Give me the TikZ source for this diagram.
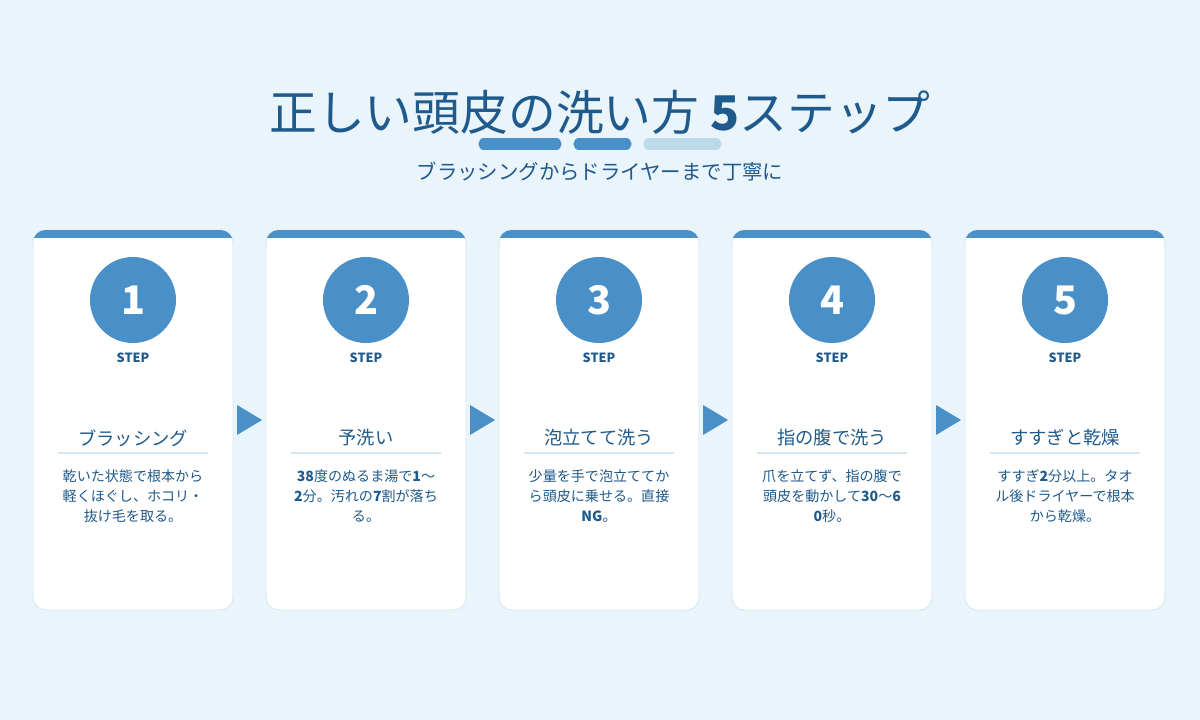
\documentclass[tikz,border=0pt]{standalone}
\usepackage{fontspec}
\setmainfont{Noto Sans CJK JP}
\usetikzlibrary{positioning,calc}
\definecolor{bgblue}{HTML}{E9F4FB}
\definecolor{dark}{HTML}{1F5A8C}
\definecolor{accent}{HTML}{4A90C8}
\definecolor{pale}{HTML}{BCD9EA}
\definecolor{edge}{HTML}{D3E6F2}
\tikzset{
    % Card style
    card/.style={
        rectangle,
        rounded corners=9pt,
        minimum width=5cm,
        minimum height=9.5cm,
        draw=edge,
        fill=white,
        line width=0.6pt
    },
    % Number badge
    badge/.style={
        circle,
        minimum size=2.15cm,
        fill=accent,
        text=white,
        font=\fontsize{28}{30}\selectfont\bfseries
    },
    step label/.style={font=\fontsize{9}{10}\selectfont\bfseries, text=dark},
    card title/.style={font=\fontsize{13}{15}\selectfont, text=dark},
    body text/.style={font=\fontsize{10}{14.2}\selectfont, text=dark, align=center},
    arrowhead/.style={fill=accent}
}
\begin{document}
\begin{tikzpicture}[x=0.025cm, y=-0.025cm]
    \fill[bgblue] (0,0) rectangle (1200,720);

    % Title
    \node[font=\fontsize{34}{36}\selectfont, text=dark] (title) at (600,112) {正しい頭皮の洗い方 \textbf{5}ステップ};
    \draw[accent, line width=8pt, line cap=round] (484,144) -- (556,144);
    \draw[accent, line width=8pt, line cap=round] (579,144) -- (626,144);
    \draw[pale, line width=8pt, line cap=round] (649,144) -- (716,144);
    \node[font=\fontsize{14.5}{16}\selectfont, text=dark] (subtitle) at (600,172) {ブラッシングからドライヤーまで丁寧に};

    % Cards
    \foreach \i/\head/\body in {
        1/ブラッシング/{乾いた状態で根本から\\軽くほぐし、ホコリ・\\抜け毛を取る。},
        2/予洗い/{\textbf{38}度のぬるま湯で\textbf{1}〜\\\textbf{2}分。汚れの\textbf{7}割が落ち\\る。},
        3/泡立てて洗う/{少量を手で泡立ててか\\ら頭皮に乗せる。直接\\\textbf{NG}。},
        4/指の腹で洗う/{爪を立てず、指の腹で\\頭皮を動かして\textbf{30}〜\textbf{6}\\\textbf{0}秒。},
        5/すすぎと乾燥/{すすぎ\textbf{2}分以上。タオ\\ル後ドライヤーで根本\\から乾燥。}} {
        \pgfmathsetmacro{\cx}{133+233*(\i-1)}
        \node[card] (card\i) at (\cx,420) {};
        \begin{scope}
            \clip[rounded corners=9pt] (\cx-100,230) rectangle (\cx+100,300);
            \fill[accent] (\cx-100,230) rectangle (\cx+100,238.5);
        \end{scope}
        \node[badge] (num\i) at (\cx,300) {\i};
        \node[step label] (step\i) at (\cx,358) {STEP};
        \node[card title] (head\i) at (\cx,438) {\head};
        \draw[edge, line width=1.5pt] (\cx-75,453) -- (\cx+75,453);
        \node[body text, anchor=north] (body\i) at (\cx,465) {\body};
    }

    % Arrows between cards
    \foreach \i in {1,...,4} {
        \pgfmathsetmacro{\ax}{237+233*(\i-1)}
        \fill[arrowhead] (\ax,405) -- (\ax+25,420) -- (\ax,435) -- cycle;
    }
\end{tikzpicture}
\end{document}
